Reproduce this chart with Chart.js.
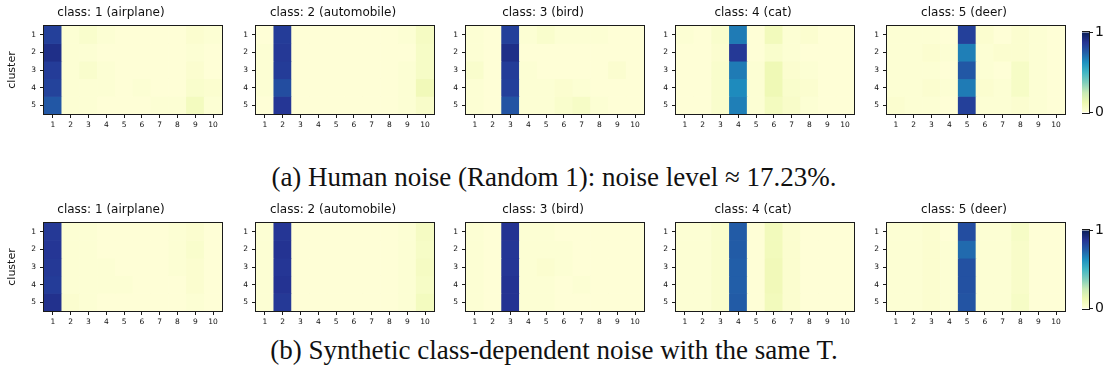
<!DOCTYPE html>
<html>
<head>
<meta charset="utf-8">
<script src="https://cdn.jsdelivr.net/npm/chart.js@4.4.1/dist/chart.umd.min.js"></script>
<style>
  html, body { margin: 0; padding: 0; background: #fff; }
  body { width: 1108px; height: 381px; position: relative; overflow: hidden; }
  canvas { position: absolute; }
  .caption { position: absolute; left: 0; width: 1108px; text-align: center;
             font-family: "Liberation Serif", "DejaVu Serif", serif; font-size: 27px; color: #111;
             line-height: 30px; white-space: nowrap; }
</style>
</head>
<body>
<div class="caption" id="capA" style="top:162px"></div>
<div class="caption" id="capB" style="top:335px"></div>
<script>
// ---- data -------------------------------------------------------------
const classNumbers = ['1', '2', '3', '4', '5', '6', '7', '8', '9', '10'];
const clusterNumbers = [1, 2, 3, 4, 5];
const panelTitles = ['class: 1 (airplane)', 'class: 2 (automobile)', 'class: 3 (bird)',
                     'class: 4 (cat)', 'class: 5 (deer)'];
const colorbarTicks = [0, 1];
const captionA = '(a) Human noise (Random 1): noise level ≈ 17.23%.';
const captionB = '(b) Synthetic class-dependent noise with the same T.';

// human noise: rows = clusters 1..5, columns = noisy label 1..10
const humanAirplane = [
  [0.84, 0.02, 0.04, 0.02, 0.01, 0.01, 0.01, 0.01, 0.03, 0.02],
  [0.90, 0.02, 0.02, 0.01, 0.01, 0.01, 0.01, 0.01, 0.02, 0.01],
  [0.85, 0.02, 0.04, 0.02, 0.01, 0.01, 0.01, 0.01, 0.03, 0.01],
  [0.83, 0.02, 0.02, 0.02, 0.01, 0.02, 0.01, 0.01, 0.04, 0.03],
  [0.77, 0.02, 0.02, 0.01, 0.01, 0.01, 0.02, 0.02, 0.08, 0.02]
];
const humanAutomobile = [
  [0.01, 0.85, 0.01, 0.01, 0.01, 0.01, 0.01, 0.01, 0.02, 0.07],
  [0.02, 0.86, 0.01, 0.01, 0.01, 0.01, 0.01, 0.01, 0.01, 0.06],
  [0.02, 0.85, 0.01, 0.01, 0.01, 0.01, 0.01, 0.01, 0.02, 0.06],
  [0.02, 0.80, 0.01, 0.01, 0.01, 0.01, 0.01, 0.01, 0.02, 0.10],
  [0.01, 0.87, 0.01, 0.01, 0.01, 0.01, 0.01, 0.01, 0.02, 0.05]
];
const humanBird = [
  [0.02, 0.01, 0.84, 0.02, 0.04, 0.02, 0.02, 0.02, 0.01, 0.01],
  [0.02, 0.01, 0.90, 0.01, 0.01, 0.01, 0.01, 0.01, 0.01, 0.01],
  [0.04, 0.01, 0.85, 0.02, 0.01, 0.01, 0.01, 0.01, 0.03, 0.01],
  [0.02, 0.01, 0.84, 0.02, 0.02, 0.03, 0.02, 0.01, 0.01, 0.01],
  [0.02, 0.01, 0.78, 0.02, 0.02, 0.04, 0.06, 0.02, 0.01, 0.01]
];
const humanCat = [
  [0.02, 0.01, 0.04, 0.68, 0.01, 0.09, 0.02, 0.03, 0.01, 0.01],
  [0.01, 0.01, 0.03, 0.86, 0.01, 0.04, 0.02, 0.01, 0.01, 0.01],
  [0.01, 0.01, 0.04, 0.68, 0.02, 0.11, 0.03, 0.02, 0.01, 0.01],
  [0.01, 0.01, 0.04, 0.64, 0.02, 0.11, 0.04, 0.03, 0.01, 0.01],
  [0.01, 0.01, 0.04, 0.67, 0.02, 0.08, 0.05, 0.02, 0.01, 0.01]
];
const humanDeer = [
  [0.02, 0.02, 0.02, 0.01, 0.84, 0.03, 0.01, 0.03, 0.02, 0.01],
  [0.02, 0.02, 0.03, 0.02, 0.67, 0.02, 0.03, 0.03, 0.02, 0.01],
  [0.02, 0.02, 0.02, 0.01, 0.77, 0.02, 0.01, 0.06, 0.02, 0.01],
  [0.02, 0.02, 0.03, 0.02, 0.68, 0.03, 0.02, 0.06, 0.02, 0.01],
  [0.03, 0.02, 0.02, 0.01, 0.84, 0.02, 0.02, 0.03, 0.02, 0.01]
];

// synthetic class-dependent noise with the same transition matrix
const synthAirplane = [
  [0.86, 0.02, 0.02, 0.01, 0.01, 0.01, 0.01, 0.02, 0.03, 0.01],
  [0.87, 0.02, 0.02, 0.01, 0.01, 0.01, 0.01, 0.02, 0.04, 0.01],
  [0.86, 0.02, 0.02, 0.02, 0.01, 0.01, 0.01, 0.02, 0.03, 0.01],
  [0.85, 0.02, 0.02, 0.02, 0.02, 0.01, 0.01, 0.01, 0.03, 0.01],
  [0.89, 0.03, 0.02, 0.01, 0.01, 0.01, 0.01, 0.01, 0.02, 0.01]
];
const synthAutomobile = [
  [0.02, 0.87, 0.01, 0.01, 0.01, 0.01, 0.01, 0.01, 0.02, 0.07],
  [0.02, 0.88, 0.01, 0.01, 0.01, 0.01, 0.01, 0.01, 0.02, 0.06],
  [0.02, 0.87, 0.01, 0.01, 0.01, 0.01, 0.01, 0.01, 0.02, 0.07],
  [0.02, 0.88, 0.01, 0.01, 0.01, 0.01, 0.01, 0.01, 0.02, 0.06],
  [0.02, 0.86, 0.01, 0.01, 0.01, 0.01, 0.01, 0.01, 0.02, 0.08]
];
const synthBird = [
  [0.02, 0.01, 0.88, 0.02, 0.02, 0.01, 0.01, 0.01, 0.01, 0.01],
  [0.02, 0.01, 0.87, 0.02, 0.02, 0.02, 0.01, 0.01, 0.01, 0.01],
  [0.02, 0.01, 0.87, 0.02, 0.03, 0.02, 0.01, 0.01, 0.01, 0.01],
  [0.02, 0.01, 0.88, 0.02, 0.02, 0.01, 0.02, 0.01, 0.01, 0.01],
  [0.02, 0.01, 0.88, 0.02, 0.02, 0.01, 0.01, 0.01, 0.01, 0.01]
];
const synthCat = [
  [0.02, 0.02, 0.04, 0.76, 0.01, 0.09, 0.03, 0.01, 0.01, 0.01],
  [0.02, 0.02, 0.04, 0.76, 0.01, 0.09, 0.03, 0.01, 0.01, 0.01],
  [0.02, 0.02, 0.04, 0.75, 0.01, 0.10, 0.03, 0.01, 0.01, 0.01],
  [0.02, 0.02, 0.04, 0.75, 0.01, 0.10, 0.03, 0.01, 0.01, 0.01],
  [0.02, 0.02, 0.04, 0.76, 0.01, 0.09, 0.03, 0.01, 0.01, 0.01]
];
const synthDeer = [
  [0.02, 0.02, 0.03, 0.01, 0.80, 0.02, 0.02, 0.06, 0.01, 0.01],
  [0.02, 0.02, 0.03, 0.02, 0.72, 0.02, 0.02, 0.05, 0.01, 0.01],
  [0.02, 0.02, 0.03, 0.02, 0.79, 0.02, 0.02, 0.05, 0.01, 0.01],
  [0.02, 0.02, 0.03, 0.02, 0.79, 0.02, 0.02, 0.05, 0.01, 0.01],
  [0.02, 0.02, 0.03, 0.02, 0.78, 0.02, 0.02, 0.06, 0.01, 0.01]
];

const humanPanels = [humanAirplane, humanAutomobile, humanBird, humanCat, humanDeer];
const synthPanels = [synthAirplane, synthAutomobile, synthBird, synthCat, synthDeer];

// ---- colour map (YlGnBu) ----------------------------------------------
const YLGNBU = ['#ffffd9', '#edf8b1', '#c7e9b4', '#7fcdbb', '#41b6c4',
                '#1d91c0', '#225ea8', '#253494', '#081d58'];
const ylgnbuRGB = YLGNBU.map(h => [1, 3, 5].map(i => parseInt(h.substr(i, 2), 16)));
function ylgnbu(v) {
  const t = Math.max(0, Math.min(1, v)) * (YLGNBU.length - 1);
  const i = Math.min(Math.floor(t), YLGNBU.length - 2);
  const f = t - i;
  const a = ylgnbuRGB[i], b = ylgnbuRGB[i + 1];
  const c = a.map((x, k) => Math.round(x + (b[k] - x) * f));
  return `rgb(${c[0]},${c[1]},${c[2]})`;
}

// ---- layout ------------------------------------------------------------
const FONT = 'DejaVu Sans';
const panelLefts = [44, 256, 466, 676, 887];
const PLOT_W = 178;
const rows = [
  { top: 26, height: 87.5, panels: humanPanels },
  { top: 222.5, height: 87.5, panels: synthPanels }
];
const TITLE_H = 26;
const TITLE_SIZE = 12;
const XAXIS_H = 22;

// outline of the plotting area (all four spines)
const framePlugin = {
  id: 'frame',
  afterDatasetsDraw(chart) {
    const a = chart.chartArea, ctx = chart.ctx;
    ctx.save();
    ctx.strokeStyle = '#1a1a1a';
    ctx.lineWidth = 1;
    const l = Math.round(a.left) - 0.5, t = Math.round(a.top) - 0.5;
    const r = Math.round(a.right) + 0.5, b = Math.round(a.bottom) + 0.5;
    ctx.strokeRect(l, t, r - l, b - t);
    ctx.restore();
  }
};

function makeCanvas(left, top, width, height) {
  const c = document.createElement('canvas');
  c.width = Math.round(width);
  c.height = Math.round(height);
  c.style.left = Math.round(left) + 'px';
  c.style.top = Math.round(top) + 'px';
  document.body.appendChild(c);
  return c;
}

const tickGrid = {
  display: true, drawOnChartArea: false, drawTicks: true, tickLength: 4,
  tickColor: '#1a1a1a', tickWidth: 1, offset: false
};

function heatmap(matrix, title, left, top, height, withYTitle) {
  const yW = withYTitle ? 44 : 24;
  // the canvas is symmetric around the plot so the title centres over it
  const canvas = makeCanvas(left - yW, top - TITLE_H, 2 * yW + PLOT_W, TITLE_H + height + XAXIS_H);
  return new Chart(canvas, {
    type: 'bar',
    data: {
      labels: classNumbers,
      datasets: clusterNumbers.map((k, r) => ({
        label: 'cluster ' + k,
        data: classNumbers.map(() => [k - 0.5, k + 0.5]),
        backgroundColor: matrix[r].map(ylgnbu),
        borderWidth: 0,
        barPercentage: 1,
        categoryPercentage: 1
      }))
    },
    options: {
      responsive: false,
      animation: false,
      layout: { padding: { left: 0, right: yW, top: 0, bottom: 0 } },
      plugins: {
        legend: { display: false },
        tooltip: { enabled: false },
        title: {
          display: true, text: title, color: '#111',
          font: { family: FONT, size: TITLE_SIZE, weight: 'normal', lineHeight: 1.2 },
          padding: { top: 6, bottom: TITLE_H - 6 - TITLE_SIZE * 1.2 }
        }
      },
      scales: {
        x: {
          type: 'category', stacked: true, offset: true,
          grid: tickGrid,
          border: { display: false },
          ticks: { color: '#111', font: { family: FONT, size: 7.5 }, padding: 3,
                   maxRotation: 0, autoSkip: false },
          afterFit(s) { s.height = XAXIS_H; }
        },
        y: {
          type: 'linear', min: 0.5, max: 5.5, reverse: true, stacked: false,
          grid: tickGrid,
          border: { display: false },
          afterBuildTicks(s) { s.ticks = clusterNumbers.map(v => ({ value: v })); },
          ticks: { color: '#111', font: { family: FONT, size: 7.5 }, padding: 4 },
          title: {
            display: withYTitle, text: 'cluster', color: '#111',
            font: { family: FONT, size: 11 }, padding: { top: 6, bottom: 0 }
          },
          afterFit(s) { s.width = yW; }
        }
      }
    },
    plugins: [framePlugin]
  });
}

function colorbar(left, top, height) {
  const PAD = 10, RIGHT_W = 19, BAR_W = 7;
  const canvas = makeCanvas(left, top - PAD, BAR_W + RIGHT_W, height + 2 * PAD);
  return new Chart(canvas, {
    type: 'bar',
    data: {
      labels: ['scale'],
      datasets: [{
        data: [[colorbarTicks[0], colorbarTicks[colorbarTicks.length - 1]]],
        backgroundColor(ctx) {
          const a = ctx.chart.chartArea;
          if (!a) return YLGNBU[0];
          const g = ctx.chart.ctx.createLinearGradient(0, a.bottom, 0, a.top);
          YLGNBU.forEach((c, i) => g.addColorStop(i / (YLGNBU.length - 1), c));
          return g;
        },
        borderWidth: 0,
        barPercentage: 1,
        categoryPercentage: 1
      }]
    },
    options: {
      responsive: false,
      animation: false,
      layout: { padding: { left: 0, right: 0, top: PAD, bottom: PAD } },
      plugins: { legend: { display: false }, tooltip: { enabled: false } },
      scales: {
        x: { display: false },
        y: {
          position: 'right', min: 0, max: 1,
          grid: tickGrid,
          border: { display: false },
          afterBuildTicks(s) { s.ticks = colorbarTicks.map(v => ({ value: v })); },
          ticks: { color: '#111', font: { family: FONT, size: 14 }, padding: 2 },
          afterFit(s) { s.width = RIGHT_W; }
        }
      }
    },
    plugins: [framePlugin]
  });
}

rows.forEach(row => {
  row.panels.forEach((m, i) => heatmap(m, panelTitles[i], panelLefts[i], row.top, row.height, i === 0));
});
colorbar(1082, 32, 81);
colorbar(1082, 230, 79);

document.getElementById('capA').textContent = captionA;
document.getElementById('capB').textContent = captionB;
</script>
</body>
</html>
